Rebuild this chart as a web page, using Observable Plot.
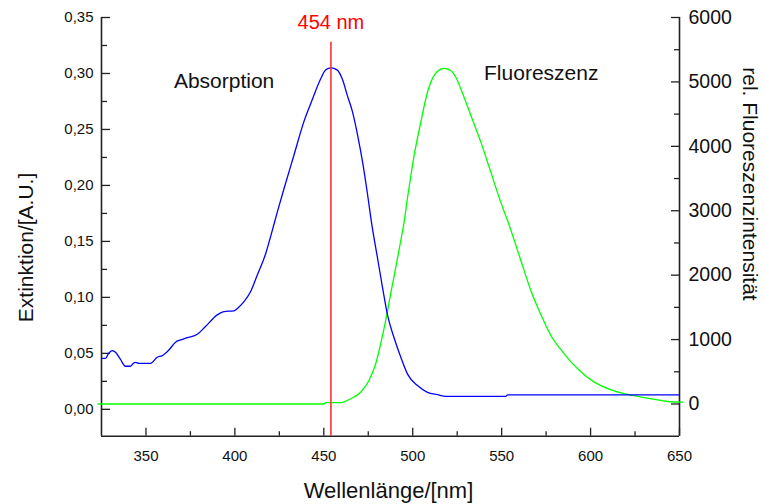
<!DOCTYPE html>
<html>
<head>
<meta charset="utf-8">
<script src="https://cdn.jsdelivr.net/npm/d3@7"></script>
<script src="https://cdn.jsdelivr.net/npm/@observablehq/plot@0.6"></script>
<style>
  html, body { margin: 0; padding: 0; background: #fff; overflow: hidden; }
</style>
</head>
<body>
<div id="chart"></div>
<script>
// Absorption spectrum: wavelength (nm) and extinction (A.U.), left axis
const absWavelength = [325, 327.3, 329, 331, 332.9, 335.5, 338.5, 341.3, 342.8, 344.1, 346, 352.6, 356.3, 359.2,
  362.9, 366.6, 369.5, 373.2, 378.9, 383.5, 390.1, 393.8, 399.5, 402, 405, 408.8, 412.6, 417.3, 420.2, 424,
  427.6, 433.2, 438.8, 443.6, 448.2, 451, 454, 457.6, 460.4, 463.3, 466.1, 469, 472, 474.5, 477, 480, 483,
  486, 489.5, 493.3, 497, 502.7, 508.3, 513.9, 518.6, 552.3, 553.3, 650];
const absExtinction = [0.0456, 0.0456, 0.050, 0.0525, 0.051, 0.045, 0.0385, 0.0385, 0.041, 0.042, 0.041, 0.041, 0.0465, 0.048,
  0.053, 0.060, 0.062, 0.064, 0.067, 0.074, 0.0844, 0.0873, 0.088, 0.091, 0.096, 0.105, 0.120, 0.139, 0.155, 0.177,
  0.197, 0.227, 0.257, 0.277, 0.295, 0.303, 0.305, 0.303, 0.295, 0.280, 0.266, 0.245, 0.219, 0.193, 0.165, 0.137, 0.109,
  0.083, 0.064, 0.0465, 0.0317, 0.0212, 0.0152, 0.0131, 0.0116, 0.0116, 0.0129, 0.0129];

// Fluorescence emission: wavelength (nm) and relative intensity, right axis
const fluoWavelength = [323, 450, 451, 459.5, 462, 465.1, 470.7, 475.4, 479.2, 482, 484.8, 487.6, 490.5, 493.3, 495,
  497, 500.8, 504.5, 508.3, 512, 515.8, 517.3, 520, 522.3, 524.5, 527, 532.7, 538.3, 543.9, 549.5, 553.3, 560.8,
  566.4, 572.1, 577.7, 585.2, 592.7, 602.1, 611.5, 620.8, 632.1, 643.3, 652];
const fluoIntensity = [0, 0, 20, 20, 40, 81, 183, 365, 624, 935, 1297, 1711, 2124, 2539, 2800,
  3186, 3859, 4370, 4840, 5101, 5200, 5210, 5195, 5152, 5060, 4894, 4480, 4065, 3599, 3134, 2849, 2228,
  1762, 1385, 1064, 779, 547, 339, 220, 148, 90, 39, 28];

// Excitation wavelength marker
const markerWavelength = 454;

// Axis domains and ticks
const xDomain = [325, 650];
const extDomain = [-0.024, 0.35];
const fluoDomain = [-500, 6000];
const xTicks = [350, 400, 450, 500, 550, 600, 650];
const xMinorTicks = [375, 425, 475, 525, 575, 625];
const extTicks = [0, 0.05, 0.10, 0.15, 0.20, 0.25, 0.30, 0.35];
const extMinorTicks = [0.025, 0.075, 0.125, 0.175, 0.225, 0.275, 0.325];
const fluoTicks = [0, 1000, 2000, 3000, 4000, 5000, 6000];
const fluoMinorTicks = [500, 1500, 2500, 3500, 4500, 5500];

const absorption = absWavelength.map((nm, i) => ({nm, ext: absExtinction[i]}));
const fluorescence = fluoWavelength.map((nm, i) => ({nm, f: fluoIntensity[i]}));

// The fluorescence series shares the plot's y scale via a linear mapping onto the extinction domain
const fluoToExt = d3.scaleLinear(fluoDomain, extDomain);

const font = "'Liberation Sans', Arial, Helvetica, sans-serif";
const ink = "#111";
const axisInk = "#222";
const red = "#ff0000";

const chart = Plot.plot({
  width: 765,
  height: 504,
  marginTop: 17,
  marginRight: 86,
  marginBottom: 68.3,
  marginLeft: 101,
  style: {fontFamily: font, color: ink, background: "#fff", overflow: "visible"},
  x: {domain: xDomain, axis: null},
  y: {domain: extDomain, axis: null},
  marks: [
    // axis lines
    Plot.ruleX(xDomain, {stroke: axisInk, strokeWidth: 1.6}),
    Plot.ruleY([extDomain[0]], {stroke: axisInk, strokeWidth: 1.6}),

    // bottom axis
    Plot.axisX(xTicks, {anchor: "bottom", tickSize: -8, tickPadding: 22, fontSize: 15, strokeWidth: 1.3, stroke: axisInk, label: null}),
    Plot.axisX(xMinorTicks, {anchor: "bottom", tickSize: -4.5, strokeWidth: 1.3, stroke: axisInk, fill: "none", label: null}),

    // left axis: extinction
    Plot.axisY(extTicks, {anchor: "left", tickSize: -9, tickPadding: 17, fontSize: 15, strokeWidth: 1.3, stroke: axisInk,
      tickFormat: d => d.toFixed(2).replace(".", ","), label: null}),
    Plot.axisY(extMinorTicks, {anchor: "left", tickSize: -6, strokeWidth: 1.3, stroke: axisInk, fill: "none", label: null}),

    // right axis: fluorescence intensity
    Plot.axisY(fluoTicks.map(fluoToExt), {anchor: "right", tickSize: -9, tickPadding: 18, fontSize: 19.5, strokeWidth: 1.3, stroke: axisInk,
      tickFormat: d => String(Math.round(fluoToExt.invert(d))), label: null}),
    Plot.axisY(fluoMinorTicks.map(fluoToExt), {anchor: "right", tickSize: -6, strokeWidth: 1.3, stroke: axisInk, fill: "none", label: null}),

    // spectra
    Plot.line(fluorescence, {x: "nm", y: d => fluoToExt(d.f), stroke: "#00ff00", strokeWidth: 1.3, curve: "monotone-x"}),
    Plot.line(absorption, {x: "nm", y: "ext", stroke: "#0000ff", strokeWidth: 1.3, curve: "monotone-x"}),

    // excitation marker
    Plot.ruleX([markerWavelength], {y1: 0.328, y2: extDomain[0], stroke: "#ff3030", strokeWidth: 1.6}),
    Plot.text([markerWavelength], {x: d => d, y: 0.3399, text: d => `${d} nm`, fill: red, fontSize: 20,
      textAnchor: "middle", lineAnchor: "bottom"}),

    // series labels
    Plot.text(["Absorption"], {x: 365.7, y: 0.2872, text: d => d, textAnchor: "start", lineAnchor: "bottom", fontSize: 21, fill: ink}),
    Plot.text(["Fluoreszenz"], {x: 540.1, y: 0.2946, text: d => d, textAnchor: "start", lineAnchor: "bottom", fontSize: 21, fill: ink}),

    // axis titles
    Plot.text(["Wellenlänge/[nm]"], {frameAnchor: "bottom", text: d => d, dx: -2, dy: 61.6,
      textAnchor: "middle", lineAnchor: "bottom", fontSize: 22, fill: ink}),
    Plot.text(["Extinktion/[A.U.]"], {frameAnchor: "left", text: d => d, rotate: -90, dx: -69, dy: 20.6,
      textAnchor: "middle", lineAnchor: "bottom", fontSize: 21, fill: ink}),
    Plot.text(["rel. Fluoreszenzintensität"], {frameAnchor: "right", text: d => d, rotate: 90, dx: 63, dy: -42.9,
      textAnchor: "middle", lineAnchor: "bottom", fontSize: 21, fill: ink})
  ]
});

document.getElementById("chart").appendChild(chart);
</script>
</body>
</html>
